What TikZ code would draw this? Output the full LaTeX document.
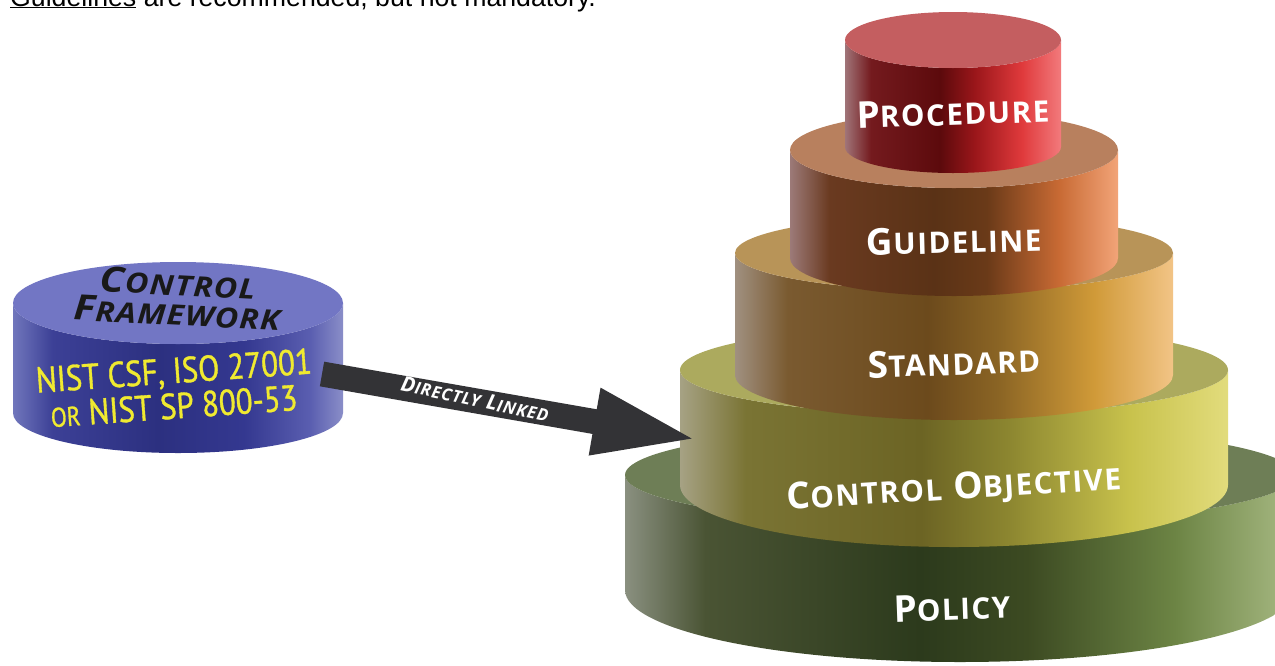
\documentclass[tikz,border=0pt]{standalone}
\usepackage{fontspec}
\setmainfont{Liberation Sans}
\newfontfamily\tierfont{Open Sans}[LetterSpace=5]
\newfontfamily\tiersmall{Open Sans}[Scale=0.8,LetterSpace=5]
\newfontfamily\fwfont{Open Sans}[FakeStretch=1.15,LetterSpace=4]
\newfontfamily\fwsmall{Open Sans}[Scale=0.8,FakeStretch=1.15,LetterSpace=4]
\newfontfamily\nistfont{PT Sans}[FakeStretch=0.86,FakeBold=1]
\newfontfamily\nistsmall{PT Sans}[Scale=0.75,FakeStretch=0.86,FakeBold=1]
\usetikzlibrary{arrows.meta,positioning}

% colours of the tiers
\definecolor{polTop}{HTML}{6E7E56}
\definecolor{polA}{HTML}{8A9080}
\definecolor{polB}{HTML}{4A5434}
\definecolor{polC}{HTML}{2C3A1C}
\definecolor{polD}{HTML}{3C4A22}
\definecolor{polE}{HTML}{6C8444}
\definecolor{polF}{HTML}{A8BA84}
\definecolor{objTop}{HTML}{ACAA5E}
\definecolor{objA}{HTML}{A6A284}
\definecolor{objB}{HTML}{7A7434}
\definecolor{objC}{HTML}{6C6424}
\definecolor{objD}{HTML}{8C8630}
\definecolor{objE}{HTML}{C8C24C}
\definecolor{objF}{HTML}{E2DC7C}
\definecolor{stdTop}{HTML}{B89458}
\definecolor{stdA}{HTML}{A09080}
\definecolor{stdB}{HTML}{7A5A30}
\definecolor{stdC}{HTML}{6C4A1C}
\definecolor{stdD}{HTML}{8A6424}
\definecolor{stdE}{HTML}{D09A38}
\definecolor{stdF}{HTML}{F2C486}
\definecolor{gdlTop}{HTML}{B8805E}
\definecolor{gdlA}{HTML}{9C7A78}
\definecolor{gdlB}{HTML}{6A3A20}
\definecolor{gdlC}{HTML}{5A3216}
\definecolor{gdlD}{HTML}{6A3A18}
\definecolor{gdlE}{HTML}{C86A34}
\definecolor{gdlF}{HTML}{F2A478}
\definecolor{procTop}{HTML}{C45E60}
\definecolor{procA}{HTML}{A07478}
\definecolor{procB}{HTML}{741A1E}
\definecolor{procC}{HTML}{5C0A0C}
\definecolor{procD}{HTML}{9A161A}
\definecolor{procE}{HTML}{E03A3C}
\definecolor{procF}{HTML}{F27A7C}
\definecolor{fwTop}{HTML}{7276C4}
\definecolor{fwA}{HTML}{7076BC}
\definecolor{fwB}{HTML}{3C4096}
\definecolor{fwC}{HTML}{2C3080}
\definecolor{fwD}{HTML}{343890}
\definecolor{fwE}{HTML}{5A5EB0}
\definecolor{fwF}{HTML}{8A8EC8}
\definecolor{nistYellow}{HTML}{F0EA30}
\definecolor{arrowGray}{HTML}{333336}

\pgfdeclarehorizontalshading{polSide}{100bp}{color(0bp)=(polA); color(25bp)=(polA); color(31bp)=(polB); color(47bp)=(polC); color(55bp)=(polD); color(66bp)=(polE); color(75bp)=(polF); color(100bp)=(polF)}
\pgfdeclarehorizontalshading{objSide}{100bp}{color(0bp)=(objA); color(25bp)=(objA); color(31bp)=(objB); color(47bp)=(objC); color(55bp)=(objD); color(66bp)=(objE); color(75bp)=(objF); color(100bp)=(objF)}
\pgfdeclarehorizontalshading{stdSide}{100bp}{color(0bp)=(stdA); color(25bp)=(stdA); color(31bp)=(stdB); color(47bp)=(stdC); color(55bp)=(stdD); color(66bp)=(stdE); color(75bp)=(stdF); color(100bp)=(stdF)}
\pgfdeclarehorizontalshading{gdlSide}{100bp}{color(0bp)=(gdlA); color(25bp)=(gdlA); color(31bp)=(gdlB); color(47bp)=(gdlC); color(55bp)=(gdlD); color(66bp)=(gdlE); color(75bp)=(gdlF); color(100bp)=(gdlF)}
\pgfdeclarehorizontalshading{procSide}{100bp}{color(0bp)=(procA); color(25bp)=(procA); color(31bp)=(procB); color(47bp)=(procC); color(55bp)=(procD); color(66bp)=(procE); color(75bp)=(procF); color(100bp)=(procF)}
\pgfdeclarehorizontalshading{fwSide}{100bp}{color(0bp)=(fwA); color(25bp)=(fwA); color(31bp)=(fwB); color(47bp)=(fwC); color(60bp)=(fwD); color(70bp)=(fwE); color(75bp)=(fwF); color(100bp)=(fwF)}

% big first letter, smaller rest
\newcommand\capsc[2]{#1{\tiersmall #2}}
\newcommand\fwcaps[2]{#1{\fwsmall #2}}
% cylinder: cx, rx, top y, top ry, bottom y, bottom ry, top colour, side shading
\newcommand\tier[8]{%
  \shade[shading=#8] ({#1-#2},#3) -- ({#1-#2},#5)
    arc[start angle=180, end angle=0, x radius=#2, y radius=#6]
    -- ({#1+#2},#3)
    arc[start angle=0, end angle=180, x radius=#2, y radius=#4] -- cycle;
  \fill[#7] (#1,#3) ellipse [x radius=#2, y radius=#4];
}

\begin{document}
\begin{tikzpicture}[x=1pt, y=-1pt,
      tierlabel/.style={text=white, font=\tierfont\bfseries\fontsize{37}{40}\selectfont},
      fwtitle/.style={text=black!90, font=\fwfont\bfseries\itshape\fontsize{35}{38}\selectfont},
      fwlist/.style={text=nistYellow, font=\nistfont\fontsize{36}{40}\selectfont},
      linkarrow/.style={draw=arrowGray, line width=25pt, -{Triangle[length=107pt, width=60pt]}},
      linklabel/.style={text=white, font=\tierfont\bfseries\itshape\fontsize{21}{24}\selectfont}]

\useasboundingbox (0,0) rectangle (1275,665);
\clip (0,0) rectangle (1275,665);
\fill[white] (0,0) rectangle (1275,665);

\node[anchor=base west, inner sep=0pt, font=\fontsize{26.7}{30}\selectfont] (note) at (10,6) {\underline{Guidelines} are recommended, but not mandatory.};

% the stack, bottom first
\tier{960}{335}{475}{50}{590}{72}{polTop}{polSide}
\tier{954}{274}{370}{45}{485}{62}{objTop}{objSide}
\tier{954}{219}{253}{38}{375}{45}{stdTop}{stdSide}
\tier{954}{164}{150}{38}{258}{38}{gdlTop}{gdlSide}
\tier{953}{108}{40}{28}{147}{26}{procTop}{procSide}
% framework
\tier{178}{165}{303}{41}{413}{40}{fwTop}{fwSide}

\node[tierlabel, rotate=2] (proc) at (953,112) {\capsc{P}{ROCEDURE}};
\node[tierlabel, rotate=1.5] (gdl) at (954,240) {\capsc{G}{UIDELINE}};
\node[tierlabel, rotate=2] (std) at (954,362) {\capsc{S}{TANDARD}};
\node[tierlabel, rotate=3.5] (obj) at (954,489) {\capsc{C}{ONTROL} \capsc{O}{BJECTIVE}};
\node[tierlabel, rotate=2] (pol) at (952,607) {\capsc{P}{OLICY}};

\node[fwtitle, rotate=-3] (fwA) at (178,283) {\fwcaps{C}{ONTROL}};
\node[fwtitle, rotate=-3] (fwB) at (177,313) {\fwcaps{F}{RAMEWORK}};
\node[fwlist, rotate=4] (nistA) at (174,373) {NIST CSF, ISO 27001};
\node[fwlist, rotate=4] (nistB) at (174,406) {{\nistsmall OR} NIST SP 800-53};

\coordinate (fwOut) at (322,374);
\coordinate (objIn) at (700,440);
\draw[linkarrow] (fwOut) -- (objIn);
\node[linklabel, rotate=-12] (link) at (475,399) {\capsc{D}{IRECTLY} \capsc{L}{INKED}};

\end{tikzpicture}
\end{document}
